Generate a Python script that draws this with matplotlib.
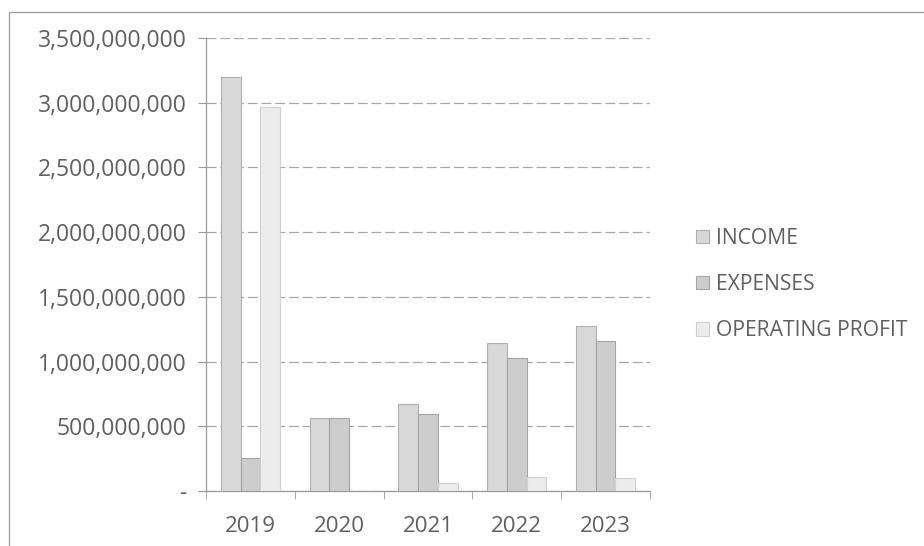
import matplotlib
matplotlib.use("Agg")
import matplotlib.pyplot as plt
import numpy as np
from matplotlib.patches import Rectangle

years = ["2019", "2020", "2021", "2022", "2023"]
income = [3.20e9, 0.562e9, 0.670e9, 1.147e9, 1.276e9]
expenses = [0.255e9, 0.562e9, 0.593e9, 1.031e9, 1.160e9]
operating_profit = [2.97e9, 0.0, 0.060e9, 0.111e9, 0.103e9]
series_names = ["INCOME", "EXPENSES", "OPERATING PROFIT"]
yticks = [0, 0.5e9, 1.0e9, 1.5e9, 2.0e9, 2.5e9, 3.0e9, 3.5e9]

plt.rcParams['font.family'] = ['Open Sans', 'DejaVu Sans']

W, H = 924, 546
fig = plt.figure(figsize=(W / 100, H / 100), dpi=100)
fig.patch.set_facecolor('white')

# chart area border (partially visible)
fig.patches.append(Rectangle((9 / W, -0.1), 1.2, 1 - 12 / H + 0.1, transform=fig.transFigure,
                             fill=False, edgecolor='#9a9a9a', lw=0.9, zorder=0))

ax = fig.add_axes([206 / W, 55 / H, (650 - 206) / W, (491 - 38) / H])
x = np.arange(len(years))
bw = 1 / 4.5
colors = ['#d8d8d8', '#cdcdcd', '#ececec']
edges = ['#b0b0b0', '#a5a5a5', '#d0d0d0']
for i, (vals, c, e, name) in enumerate(zip([income, expenses, operating_profit], colors, edges, series_names)):
    ax.bar(x + (i - 1) * bw, vals, width=bw, color=c, edgecolor=e, linewidth=0.8, label=name, zorder=3)

ax.set_xlim(-0.5, len(years) - 0.5)
ax.set_ylim(0, 3.5e9)
ax.set_yticks(yticks)
ax.set_yticklabels(['-' if v == 0 else f"{int(v):,}" for v in yticks])
ax.set_xticks(x)
ax.set_xticklabels(years)
ax.set_xticks(np.arange(-0.5, len(years), 1.0), minor=True)
ax.tick_params(axis='x', which='major', length=0, pad=18, labelsize=16, labelcolor='#606060')
ax.tick_params(axis='x', which='minor', length=6, color='#9a9a9a', direction='out')
ax.tick_params(axis='y', which='major', length=6, color='#9a9a9a', pad=8, labelsize=16.5, labelcolor='#606060')

ax.grid(axis='y', color='#a8a8a8', lw=0.9, linestyle=(0, (8, 3)), zorder=0)
ax.set_axisbelow(True)
for s in ['top', 'right']:
    ax.spines[s].set_visible(False)
for s in ['left', 'bottom']:
    ax.spines[s].set_color('#9a9a9a')
    ax.spines[s].set_linewidth(0.9)

leg = ax.legend(loc='upper left', bbox_to_anchor=(696 / W, 1 - 228 / H), bbox_transform=fig.transFigure,
                frameon=False, fontsize=15.2, handlelength=0.6, handleheight=0.6, handletextpad=0.35,
                labelspacing=1.19, borderaxespad=0, borderpad=0)
for t in leg.get_texts():
    t.set_color('#606060')

fig.savefig('out.png', dpi=100, facecolor='white')
